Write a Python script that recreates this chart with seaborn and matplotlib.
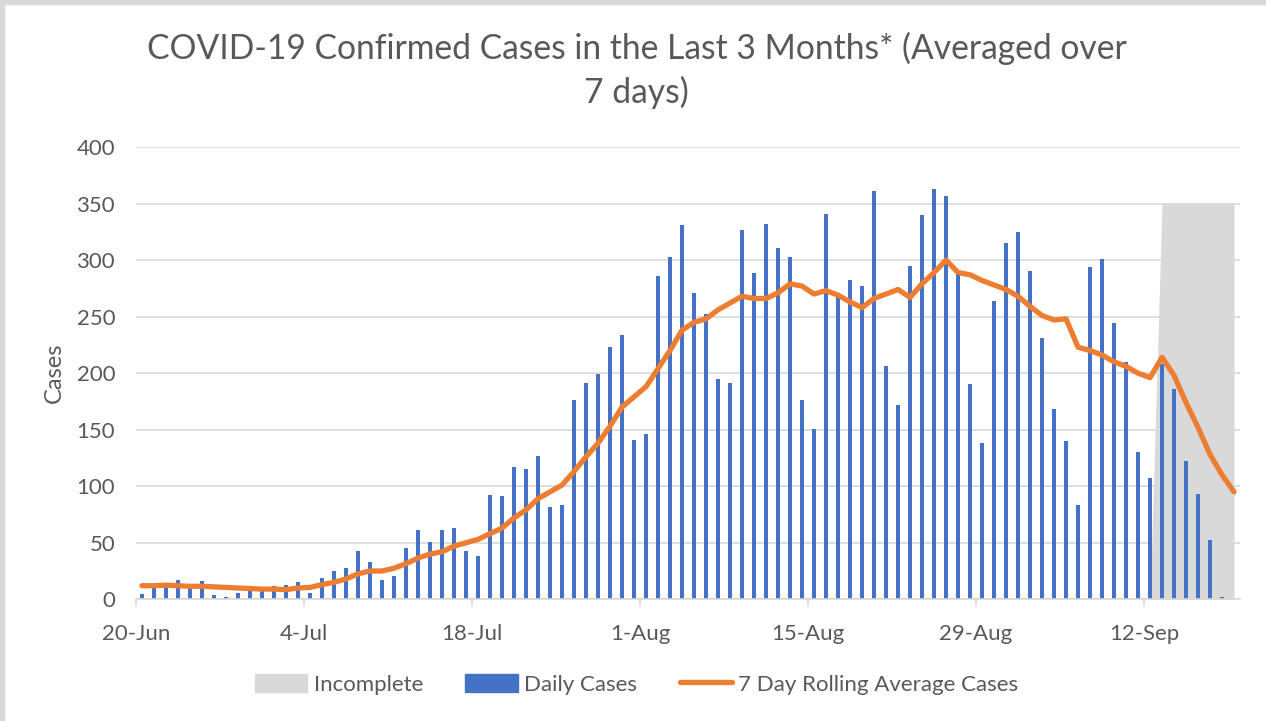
import seaborn as sns
import matplotlib.pyplot as plt
import matplotlib.patches as mpatches
from matplotlib.lines import Line2D
import numpy as np
import pandas as pd

# Data, one value per day from 20-Jun
dates = pd.date_range("2020-06-20", periods=92, freq="D")

daily_cases = [
    5, 10, 11, 17, 10, 16, 4, 2, 6, 7, 8, 12, 13, 15,
    6, 19, 25, 28, 43, 33, 17, 21, 45, 61, 51, 61, 63, 43,
    38, 92, 91, 117, 115, 127, 82, 83, 176, 191, 199, 223, 234, 141,
    146, 286, 303, 331, 271, 252, 195, 191, 327, 289, 332, 311, 303, 176,
    151, 341, 267, 282, 277, 361, 206, 172, 295, 340, 363, 357, 289, 190,
    138, 264, 315, 325, 290, 231, 168, 140, 83, 294, 301, 244, 210, 130,
    107, 208, 186, 122, 93, 52, 2, 0,
]

rolling_avg = [
    12, 12, 12.5, 12, 11.5, 11.5, 11, 10.5, 10, 9.5, 9, 9, 8.5, 10,
    10.5, 13, 15, 18, 22.5, 25, 25, 27.5, 31.5, 36.5, 40, 42, 47, 50,
    53, 58, 63, 72, 79, 89, 95, 101, 113, 126, 138, 153, 170, 179,
    188, 204, 220, 238, 245, 248, 256, 262, 268, 266, 266, 271, 279, 277,
    270, 273, 269, 263, 258, 266, 270, 274, 267, 279, 289, 300, 289, 287,
    282, 278, 274, 268, 259, 251, 247, 248, 223, 220, 216, 210, 206, 200,
    196, 214, 198, 174, 152, 128, 110, 95,
]

# "Incomplete" band: 0 up to 12-Sep, 350 from 13-Sep on
incomplete = [0] * 85 + [350] * 7

tick_labels = ["20-Jun", "4-Jul", "18-Jul", "1-Aug", "15-Aug", "29-Aug", "12-Sep"]

df = pd.DataFrame({
    "day": np.arange(len(dates)),
    "daily": daily_cases,
    "avg": rolling_avg,
    "incomplete": incomplete,
})

BLUE = "#4472C4"
ORANGE = "#ED7D31"
GREY = "#D9D9D9"
TEXT = "#595959"

sns.set_theme(style="white")
plt.rcParams["font.family"] = ["Lato", "DejaVu Sans"]

fig = plt.figure(figsize=(12.66, 7.21), dpi=100)
ax = fig.add_axes([0.1074, 0.1688, 0.8721, 0.6273])

# grey "incomplete" area
inc = df[df["day"] >= 84]
ax.fill_between(inc["day"], 0, inc["incomplete"], color=GREY, linewidth=0, zorder=1)

sns.barplot(data=df, x="day", y="daily", native_scale=True, width=0.34,
            color=BLUE, saturation=1, errorbar=None, linewidth=0, ax=ax, zorder=2)
sns.lineplot(data=df, x="day", y="avg", color=ORANGE, linewidth=3.8,
             solid_joinstyle="round", solid_capstyle="round", ax=ax, zorder=3)

ax.set_xlim(-0.5, 91.5)
ax.set_ylim(0, 400)
ax.set_yticks(range(0, 401, 50))
ax.yaxis.grid(True, color=GREY, linewidth=1.2)
ax.xaxis.grid(False)
ax.set_axisbelow(True)

ax.set_xticks([-0.5 + 14 * i for i in range(len(tick_labels))])
ax.set_xticklabels(tick_labels)
ax.tick_params(axis="x", length=5, width=1.2, color=GREY, direction="out",
               pad=13, labelsize=16, labelcolor=TEXT, bottom=True)
ax.tick_params(axis="y", length=0, pad=15, labelsize=16, labelcolor=TEXT)

for s in ["top", "right", "left"]:
    ax.spines[s].set_visible(False)
ax.spines["bottom"].set_color(GREY)
ax.spines["bottom"].set_linewidth(1.2)

ax.set_xlabel("")
ax.set_ylabel("Cases", fontsize=17, color=TEXT)
ax.yaxis.set_label_coords(-0.064, 0.5)

fig.text(0.503, 0.902,
         "COVID-19 Confirmed Cases in the Last 3 Months* (Averaged over\n7 days)",
         ha="center", va="center", fontsize=24.2, color=TEXT, linespacing=1.4)

handles = [
    mpatches.Patch(color=GREY, label="Incomplete"),
    mpatches.Patch(color=BLUE, label="Daily Cases"),
    Line2D([0], [0], color=ORANGE, linewidth=3.8, solid_capstyle="round",
           label="7 Day Rolling Average Cases"),
]
fig.legend(handles=handles, loc="center", bbox_to_anchor=(0.503, 0.051),
           ncol=3, frameon=False, fontsize=16, labelcolor=TEXT,
           handlelength=2.35, handleheight=0.9, columnspacing=1.9, handletextpad=0.3)

# thin grey frame at top and left like the source screenshot
fig.patches.append(mpatches.Rectangle((0, 1 - 4 / 721), 1, 4 / 721, transform=fig.transFigure,
                                      color=GREY, zorder=0))
fig.patches.append(mpatches.Rectangle((0, 0), 4 / 1266, 1, transform=fig.transFigure,
                                      color=GREY, zorder=0))

fig.savefig("out.png", dpi=100)
